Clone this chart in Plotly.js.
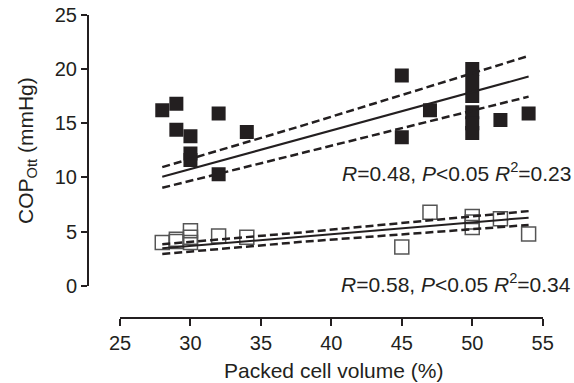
<!DOCTYPE html>
<html>
<head>
<meta charset="utf-8">
<script src="https://cdn.plot.ly/plotly-3.0.1.min.js"></script>
<style>html,body{margin:0;padding:0;background:#fff;}#chart{width:574px;height:383px;}</style>
</head>
<body>
<div id="chart"></div>
<script>
// Filled squares (upper group)
var filledX = [28, 29, 29, 30, 30, 30, 32, 32, 34, 45, 45, 47, 50, 50, 50, 50, 50, 50, 52, 54];
var filledY = [16.2, 16.8, 14.4, 13.8, 12.2, 11.6, 15.9, 10.3, 14.2, 19.4, 13.7, 16.2, 20.0, 18.8, 17.5, 16.0, 15.0, 14.1, 15.3, 15.9];
// Open squares (lower group)
var openX = [28, 29, 29, 30, 30, 30, 32, 34, 45, 47, 50, 50, 50, 52, 54];
var openY = [4.0, 4.1, 4.3, 5.1, 4.5, 4.0, 4.6, 4.5, 3.6, 6.8, 6.4, 5.9, 5.4, 6.2, 4.8];
// Regression lines and confidence bands
var fitX = [28, 54];
var filledFitY = [10.07, 19.3];
var openFitY = [3.47, 6.3];
var bandX = [28, 38, 54];
var filledUpper = [10.95, 14.8, 21.2];
var filledLower = [9.05, 12.3, 17.45];
var openUpper = [3.85, 4.95, 6.9];
var openLower = [2.95, 4.08, 5.62];
var xTicks = [25, 30, 35, 40, 45, 50, 55];
var yTicks = [0, 5, 10, 15, 20, 25];
var stat1 = '<i>R</i>=0.48, <i>P</i>&lt;0.05 <i>R</i><sup>2</sup>=0.23';
var stat2 = '<i>R</i>=0.58, <i>P</i>&lt;0.05 <i>R</i><sup>2</sup>=0.34';

var ink = '#231f20';
var W = 574, H = 383;
function px(v){return v / W;}
function py(v){return 1 - v / H;}

var dashed = {color: ink, width: 2.5, dash: '8px,4px'};
var solid = {color: ink, width: 2};

var traces = [
  {x: filledX, y: filledY, type: 'scatter', mode: 'markers',
   marker: {symbol: 'square', size: 14, color: ink, line: {width: 0}}},
  {x: openX, y: openY, type: 'scatter', mode: 'markers',
   marker: {symbol: 'square-open', size: 14, color: '#555555', line: {width: 1.5}}},
  {x: fitX, y: filledFitY, type: 'scatter', mode: 'lines', line: solid},
  {x: bandX, y: filledUpper, type: 'scatter', mode: 'lines', line: dashed},
  {x: bandX, y: filledLower, type: 'scatter', mode: 'lines', line: dashed},
  {x: fitX, y: openFitY, type: 'scatter', mode: 'lines', line: solid},
  {x: bandX, y: openUpper, type: 'scatter', mode: 'lines', line: dashed},
  {x: bandX, y: openLower, type: 'scatter', mode: 'lines', line: dashed}
];

var font = {family: '"Liberation Sans", Arial, sans-serif', color: ink, size: 20};

var layout = {
  width: W, height: H,
  margin: {l: 0, r: 0, t: 0, b: 0},
  paper_bgcolor: '#fff', plot_bgcolor: 'rgba(0,0,0,0)',
  showlegend: false,
  font: font,
  xaxis: {
    domain: [px(120), px(542.7)], range: [25, 55],
    anchor: 'free', position: py(318),
    tickvals: xTicks, ticktext: xTicks.map(String),
    showline: true, linecolor: ink, linewidth: 2,
    ticks: 'outside', ticklen: 7, tickwidth: 2, tickcolor: ink,
    showgrid: false, zeroline: false,
    tickfont: {family: font.family, size: 20, color: ink}
  },
  yaxis: {
    domain: [py(286), py(14.7)], range: [0, 25],
    anchor: 'free', position: px(88),
    tickvals: yTicks, ticktext: yTicks.map(String),
    showline: true, linecolor: ink, linewidth: 2,
    ticks: 'outside', ticklen: 6, tickwidth: 2, tickcolor: ink,
    showgrid: false, zeroline: false,
    tickfont: {family: font.family, size: 20, color: ink}
  },
  annotations: [
    {xref: 'paper', yref: 'paper', x: px(333), y: py(370), text: 'Packed cell volume (%)',
     showarrow: false, xanchor: 'center', yanchor: 'middle', font: {family: font.family, size: 21, color: ink}},
    {xref: 'paper', yref: 'paper', x: px(27), y: py(151), text: 'COP<sub>Ott</sub> (mmHg)', textangle: -90,
     showarrow: false, xanchor: 'center', yanchor: 'middle', font: {family: font.family, size: 21, color: ink}},
    {xref: 'paper', yref: 'paper', x: px(573), y: py(172), text: stat1,
     showarrow: false, xanchor: 'right', yanchor: 'middle', font: {family: font.family, size: 21, color: ink}},
    {xref: 'paper', yref: 'paper', x: px(573), y: py(283), text: stat2,
     showarrow: false, xanchor: 'right', yanchor: 'middle', font: {family: font.family, size: 21, color: ink}}
  ]
};

Plotly.newPlot('chart', traces, layout, {displayModeBar: false, staticPlot: true});
</script>
</body>
</html>
